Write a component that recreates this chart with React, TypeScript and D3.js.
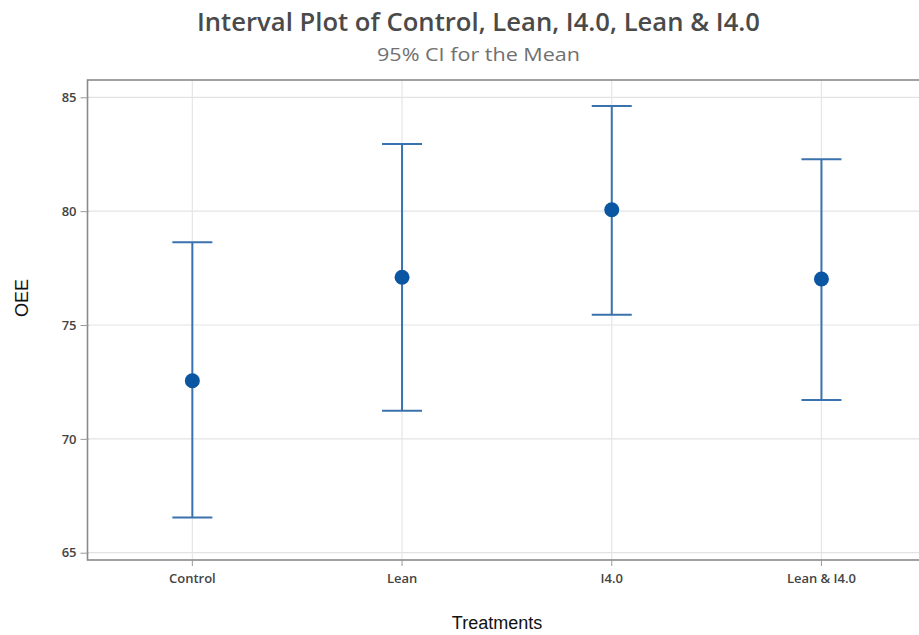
import React, { useEffect, useRef } from "react";
import * as d3 from "d3";

const categories = ["Control", "Lean", "I4.0", "Lean & I4.0"];
const means = [72.55, 77.1, 80.06, 77.02];
const lowers = [66.55, 71.24, 75.45, 71.71];
const uppers = [78.63, 82.95, 84.62, 82.28];
const yTicks = [65, 70, 75, 80, 85];

const W = 919;
const H = 635;

export default function App() {
  const ref = useRef<SVGSVGElement>(null);
  useEffect(() => {
    const svg = d3.select(ref.current);
    svg.selectAll("*").remove();
    const left = 87.5, top = 80, bottom = 560, right = 926.3;
    const x = d3.scaleBand<string>().domain(categories).range([left, right]).paddingInner(0).paddingOuter(0);
    const y = d3.scaleLinear().domain([64.68, 85.76]).range([bottom, top]);
    const cx = (c: string) => (x(c) as number) + x.bandwidth() / 2;

    svg.append("rect").attr("width", W).attr("height", H).attr("fill", "#fff");

    const g = svg.append("g");
    g.selectAll("line.hg").data(yTicks).join("line")
      .attr("x1", left).attr("x2", right)
      .attr("y1", (d) => y(d)).attr("y2", (d) => y(d))
      .attr("stroke", "#e3e3e3").attr("stroke-width", 1.2);
    g.selectAll("line.vg").data(categories).join("line")
      .attr("x1", cx).attr("x2", cx)
      .attr("y1", top).attr("y2", bottom)
      .attr("stroke", "#e6e6e6").attr("stroke-width", 1.2);

    g.append("rect").attr("x", left).attr("y", top)
      .attr("width", right - left).attr("height", bottom - top)
      .attr("fill", "none").attr("stroke", "#8a8a8a").attr("stroke-width", 1.6);

    const ya = d3.axisLeft(y).tickValues(yTicks).tickSize(8).tickPadding(4);
    const yg = svg.append("g").attr("transform", `translate(${left + 1},0)`).call(ya);
    yg.select(".domain").remove();
    yg.selectAll("line").attr("stroke", "#9a9a9a");
    yg.selectAll("text").attr("fill", "#444").attr("font-size", 13)
      .attr("font-family", "'Open Sans', sans-serif").attr("font-weight", 600);

    const xa = d3.axisBottom(x).tickSize(6).tickPadding(8);
    const xg = svg.append("g").attr("transform", `translate(0,${bottom})`).call(xa);
    xg.select(".domain").remove();
    xg.selectAll("line").attr("stroke", "#9a9a9a");
    xg.selectAll("text").attr("fill", "#444").attr("font-size", 13)
      .attr("font-family", "'Open Sans', sans-serif").attr("font-weight", 600);

    const data = categories.map((c, i) => ({ c, m: means[i], lo: lowers[i], hi: uppers[i] }));
    const cap = 20;
    const ig = svg.append("g").attr("stroke", "#3a72ad").attr("stroke-width", 2);
    ig.selectAll("line.v").data(data).join("line")
      .attr("x1", (d) => cx(d.c)).attr("x2", (d) => cx(d.c))
      .attr("y1", (d) => y(d.hi)).attr("y2", (d) => y(d.lo));
    ig.selectAll("line.t").data(data).join("line")
      .attr("x1", (d) => cx(d.c) - cap).attr("x2", (d) => cx(d.c) + cap)
      .attr("y1", (d) => y(d.hi)).attr("y2", (d) => y(d.hi));
    ig.selectAll("line.b").data(data).join("line")
      .attr("x1", (d) => cx(d.c) - cap).attr("x2", (d) => cx(d.c) + cap)
      .attr("y1", (d) => y(d.lo)).attr("y2", (d) => y(d.lo));
    svg.append("g").selectAll("circle").data(data).join("circle")
      .attr("cx", (d) => cx(d.c)).attr("cy", (d) => y(d.m)).attr("r", 7.5)
      .attr("fill", "#0b56a3");

    svg.append("text").attr("x", 197).attr("y", 31)
      .attr("textLength", 563).attr("lengthAdjust", "spacingAndGlyphs")
      .attr("font-family", "'Open Sans', sans-serif").attr("font-size", 25).attr("font-weight", 600)
      .attr("fill", "#4a4a4a").text("Interval Plot of Control, Lean, I4.0, Lean & I4.0");
    svg.append("text").attr("x", 377).attr("y", 61)
      .attr("textLength", 203).attr("lengthAdjust", "spacingAndGlyphs")
      .attr("font-family", "'Open Sans', sans-serif").attr("font-size", 19)
      .attr("fill", "#707070").text("95% CI for the Mean");
    svg.append("text").attr("x", 497).attr("y", 629).attr("text-anchor", "middle")
      .attr("font-family", "'Liberation Sans', Arial, sans-serif").attr("font-size", 18)
      .attr("fill", "#111").text("Treatments");
    svg.append("text").attr("transform", "translate(28,298) rotate(-90)").attr("text-anchor", "middle")
      .attr("font-family", "'Liberation Sans', Arial, sans-serif").attr("font-size", 18)
      .attr("fill", "#111").text("OEE");
  }, []);
  return (
    <svg ref={ref} width={W} height={H}
      style={{ position: "absolute", left: 0, top: 0, display: "block" }} />
  );
}
